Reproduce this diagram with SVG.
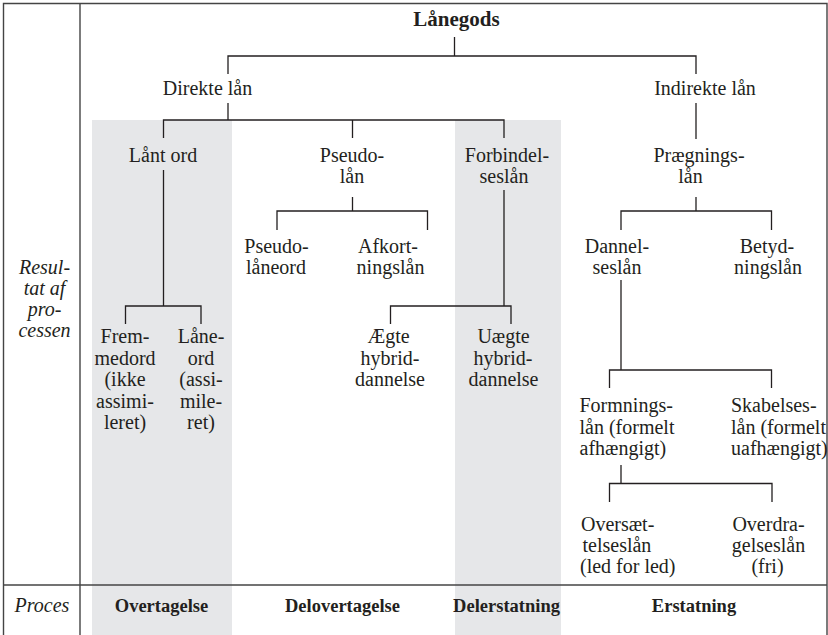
<svg xmlns="http://www.w3.org/2000/svg" width="828" height="635" viewBox="0 0 828 635">
  <style>
    text { font-family: "Liberation Serif", "Times New Roman", serif; fill: #231f20; }
    .t { font-size: 20px; text-anchor: middle; }
    .ts { font-size: 20px; text-anchor: start; }
    .it { font-size: 20px; font-style: italic; text-anchor: middle; }
    .b { font-size: 18.5px; font-weight: bold; text-anchor: middle; }
    .root { font-size: 21px; font-weight: bold; text-anchor: middle; }
    .band { fill: #e6e7e9; }
    .frame { fill: none; stroke: #444; stroke-width: 1.4; }
    .con path { fill: none; stroke: #231f20; stroke-width: 1.3; }
  </style>

  <rect width="828" height="635" fill="#ffffff"/>

  <!-- shaded process columns -->
  <rect class="band" x="92" y="120" width="140" height="515"/>
  <rect class="band" x="455" y="120" width="106" height="515"/>

  <!-- table frame -->
  <g id="frame">
    <path class="frame" d="M3.5 635 V3.5 H827 V635"/>
    <path class="frame" d="M80 3.5 V635"/>
    <path class="frame" d="M3.5 585 H827"/>
  </g>

  <!-- tree connectors -->
  <g id="connectors" class="con">
    <path d="M454.5 37 V56"/>
    <path d="M228 74 V56 H696 V74"/>
    <path d="M228 103 V120"/>
    <path d="M163.5 138 V120 H504 V138"/>
    <path d="M352.5 120 V138"/>
    <path d="M696 103 V139"/>
    <path d="M163.5 170 V306"/>
    <path d="M125.5 324 V306 H201 V324"/>
    <path d="M352.5 197 V211"/>
    <path d="M277 230 V211 H427.5 V230"/>
    <path d="M504 190 V306"/>
    <path d="M390.5 324 V306 H511 V324"/>
    <path d="M696 197 V211"/>
    <path d="M621 230 V211 H771.5 V230"/>
    <path d="M621 280 V370"/>
    <path d="M609.5 388 V370 H771.5 V388"/>
    <path d="M621 465 V483.5"/>
    <path d="M609.5 502 V483.5 H772 V502"/>
  </g>

  <!-- row labels -->
  <g id="row-result">
    <text class="it" x="44.5" y="274">Resul-</text>
    <text class="it" x="44.5" y="295">tat af</text>
    <text class="it" x="44.5" y="316">pro-</text>
    <text class="it" x="44.5" y="337">cessen</text>
  </g>
  <g id="row-process">
    <text class="it" x="42" y="612">Proces</text>
  </g>

  <!-- tree nodes -->
  <g id="laanegods"><text class="root" x="456.5" y="26">Lånegods</text></g>
  <g id="direkte"><text class="t" x="207.5" y="94.5">Direkte lån</text></g>
  <g id="indirekte"><text class="t" x="705" y="94.5">Indirekte lån</text></g>

  <g id="laant-ord"><text class="t" x="163" y="162">Lånt ord</text></g>
  <g id="pseudolaan">
    <text class="t" x="352" y="162">Pseudo-</text>
    <text class="t" x="352" y="183">lån</text>
  </g>
  <g id="forbindelseslaan">
    <text class="t" x="507" y="162">Forbindel-</text>
    <text class="t" x="504" y="183">seslån</text>
  </g>
  <g id="praegningslaan">
    <text class="t" x="699" y="162">Prægnings-</text>
    <text class="t" x="690.5" y="183">lån</text>
  </g>

  <g id="pseudo-laaneord">
    <text class="t" x="276.5" y="253">Pseudo-</text>
    <text class="t" x="276" y="274">låneord</text>
  </g>
  <g id="afkortningslaan">
    <text class="t" x="388" y="253">Afkort-</text>
    <text class="t" x="390.5" y="274">ningslån</text>
  </g>
  <g id="dannelseslaan">
    <text class="t" x="617" y="253">Dannel-</text>
    <text class="t" x="617" y="274">seslån</text>
  </g>
  <g id="betydningslaan">
    <text class="t" x="767" y="253">Betyd-</text>
    <text class="t" x="768" y="274">ningslån</text>
  </g>

  <g id="fremmedord">
    <text class="t" x="125" y="343">Frem-</text>
    <text class="t" x="125" y="364.5">medord</text>
    <text class="t" x="125" y="386">(ikke</text>
    <text class="t" x="125" y="407.5">assimi-</text>
    <text class="t" x="125" y="429">leret)</text>
  </g>
  <g id="laaneord">
    <text class="t" x="201" y="343">Låne-</text>
    <text class="t" x="201" y="364.5">ord</text>
    <text class="t" x="201" y="386">(assi-</text>
    <text class="t" x="201" y="407.5">mile-</text>
    <text class="t" x="201" y="429">ret)</text>
  </g>
  <g id="aegte-hybrid">
    <text class="t" x="388.5" y="343">Ægte</text>
    <text class="t" x="390" y="364.5">hybrid-</text>
    <text class="t" x="390" y="386">dannelse</text>
  </g>
  <g id="uaegte-hybrid">
    <text class="t" x="503.5" y="343">Uægte</text>
    <text class="t" x="503" y="364.5">hybrid-</text>
    <text class="t" x="503.5" y="386">dannelse</text>
  </g>

  <g id="formningslaan">
    <text class="ts" x="579.5" y="412">Formnings-</text>
    <text class="ts" x="579.5" y="433.5">lån (formelt</text>
    <text class="ts" x="579.5" y="455">afhængigt)</text>
  </g>
  <g id="skabelseslaan">
    <text class="ts" x="731" y="412">Skabelses-</text>
    <text class="ts" x="731" y="433.5">lån (formelt</text>
    <text class="ts" x="731" y="455">uafhængigt)</text>
  </g>
  <g id="oversaettelseslaan">
    <text class="ts" x="581" y="531">Oversæt-</text>
    <text class="ts" x="582.5" y="552">telseslån</text>
    <text class="ts" x="580" y="573">(led for led)</text>
  </g>
  <g id="overdragelseslaan">
    <text class="t" x="768.5" y="531">Overdra-</text>
    <text class="t" x="768.5" y="552">gelseslån</text>
    <text class="t" x="767.5" y="573">(fri)</text>
  </g>

  <!-- process labels -->
  <g id="proc-overtagelse"><text class="b" x="161.5" y="612">Overtagelse</text></g>
  <g id="proc-delovertagelse"><text class="b" x="342.5" y="612">Delovertagelse</text></g>
  <g id="proc-delerstatning"><text class="b" x="506.5" y="612">Delerstatning</text></g>
  <g id="proc-erstatning"><text class="b" x="694" y="612">Erstatning</text></g>
</svg>
